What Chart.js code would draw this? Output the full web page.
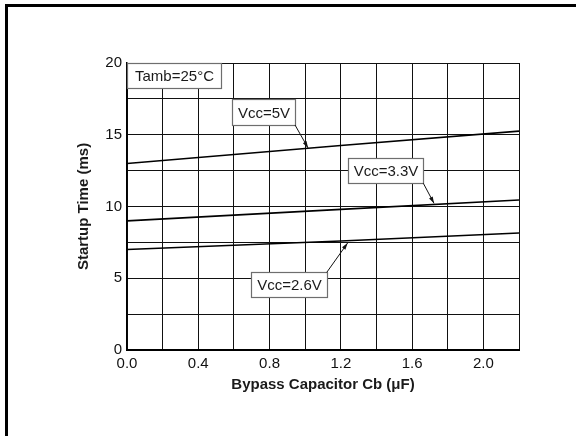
<!DOCTYPE html>
<html>
<head>
<meta charset="utf-8">
<script src="https://cdn.jsdelivr.net/npm/chart.js@4.4.0/dist/chart.umd.min.js"></script>
<style>
  html, body { margin: 0; padding: 0; background: #fff; }
  #wrap { width: 576px; height: 436px; }
</style>
</head>
<body>
<div id="wrap"><canvas id="chart" width="576" height="436"></canvas></div>
<script>
// values
const capX = [0, 1.2, 2.2];
const vcc5 = [13.0, 14.25, 15.25];
const vcc33 = [9.0, 9.8, 10.45];
const vcc26 = [7.0, 7.6, 8.15];
const seriesNames = ['Vcc=5V', 'Vcc=3.3V', 'Vcc=2.6V'];

const xLabels = ['0.0', '0.4', '0.8', '1.2', '1.6', '2.0'];
const yLabels = ['0', '5', '10', '15', '20'];

const FONT = '"Liberation Sans", Arial, sans-serif';

// callout boxes, in data units: [x1, y1, x2, y2], arrow from -> to
const notes = [
  { text: 'Tamb=25\u00B0C', box: [0, 20, 0.526, 18.28] },
  { text: 'Vcc=5V', box: [0.588, 17.47, 0.943, 15.68], from: [0.943, 15.68], to: [1.016, 14.08] },
  { text: 'Vcc=3.3V', box: [1.240, 13.36, 1.663, 11.62], from: [1.663, 11.62], to: [1.723, 10.22] },
  { text: 'Vcc=2.6V', box: [0.694, 5.41, 1.121, 3.71], from: [1.121, 5.41], to: [1.238, 7.45] }
];

function toPoints(ys) {
  return capX.map((x, i) => ({ x, y: ys[i] }));
}

const frame = {
  id: 'frame',
  beforeDraw(chart) {
    const ctx = chart.ctx;
    ctx.save();
    ctx.fillStyle = '#fff';
    ctx.fillRect(0, 0, chart.width, chart.height);
    ctx.fillStyle = '#000';
    ctx.fillRect(5, 4, chart.width - 5, 3);
    ctx.fillRect(5, 4, 3, chart.height - 4);
    ctx.restore();
  }
};

const callouts = {
  id: 'callouts',
  afterDatasetsDraw(chart) {
    const ctx = chart.ctx;
    const xs = chart.scales.x, ys = chart.scales.y;
    ctx.save();
    notes.forEach(n => {
      const x1 = Math.round(xs.getPixelForValue(n.box[0])) + 0.5;
      const y1 = Math.round(ys.getPixelForValue(n.box[1])) + 0.5;
      const x2 = Math.round(xs.getPixelForValue(n.box[2])) + 0.5;
      const y2 = Math.round(ys.getPixelForValue(n.box[3])) + 0.5;
      ctx.fillStyle = '#fff';
      ctx.fillRect(x1, y1, x2 - x1, y2 - y1);
      ctx.strokeStyle = '#6e6e6e';
      ctx.lineWidth = 1.2;
      ctx.strokeRect(x1, y1, x2 - x1, y2 - y1);
      ctx.fillStyle = '#1a1a1a';
      ctx.font = '15px ' + FONT;
      ctx.textAlign = 'center';
      ctx.textBaseline = 'middle';
      ctx.fillText(n.text, (x1 + x2) / 2, (y1 + y2) / 2 + 1);

      if (n.from) {
        const fx = xs.getPixelForValue(n.from[0]), fy = ys.getPixelForValue(n.from[1]);
        const tx = xs.getPixelForValue(n.to[0]), ty = ys.getPixelForValue(n.to[1]);
        ctx.strokeStyle = '#111';
        ctx.lineWidth = 1;
        ctx.beginPath();
        ctx.moveTo(fx, fy);
        ctx.lineTo(tx, ty);
        ctx.stroke();
        const a = Math.atan2(ty - fy, tx - fx);
        const len = 7, w = 0.3;
        ctx.fillStyle = '#111';
        ctx.beginPath();
        ctx.moveTo(tx, ty);
        ctx.lineTo(tx - len * Math.cos(a - w), ty - len * Math.sin(a - w));
        ctx.lineTo(tx - len * Math.cos(a + w), ty - len * Math.sin(a + w));
        ctx.closePath();
        ctx.fill();
      }
    });
    ctx.restore();
  }
};

new Chart(document.getElementById('chart'), {
  type: 'line',
  data: {
    datasets: [vcc5, vcc33, vcc26].map((ys, i) => ({
      label: seriesNames[i],
      data: toPoints(ys),
      borderColor: '#000',
      borderWidth: 1.6,
      pointRadius: 0,
      tension: 0
    }))
  },
  options: {
    responsive: false,
    animation: false,
    layout: { padding: { top: 63, right: 57, left: 0, bottom: 0 } },
    plugins: {
      legend: { display: false },
      tooltip: { enabled: false }
    },
    scales: {
      x: {
        type: 'linear',
        min: 0,
        max: 2.2,
        afterFit(scale) { scale.height = 86; },
        grid: { color: '#111', lineWidth: 1, drawTicks: false },
        border: { color: '#000', width: 2 },
        ticks: {
          stepSize: 0.2,
          padding: 5,
          color: '#111',
          font: { family: FONT, size: 15 },
          callback(v) {
            const s = v.toFixed(1);
            return xLabels.includes(s) ? s : '';
          }
        },
        title: {
          display: true,
          text: 'Bypass Capacitor Cb (\u03BCF)',
          color: '#1a1a1a',
          font: { family: FONT, size: 15, weight: 'bold' },
          padding: { top: 0, bottom: 42 }
        }
      },
      y: {
        min: 0,
        max: 20,
        afterFit(scale) { scale.width = 127; },
        grid: { color: '#111', lineWidth: 1, drawTicks: false },
        border: { color: '#000', width: 1.5 },
        ticks: {
          stepSize: 2.5,
          padding: 5,
          color: '#111',
          font: { family: FONT, size: 15 },
          callback(v) {
            const s = String(v);
            return yLabels.includes(s) ? s : '';
          }
        },
        title: {
          display: true,
          text: 'Startup Time (ms)',
          color: '#1a1a1a',
          font: { family: FONT, size: 15, weight: 'bold' },
          padding: { top: 75, bottom: 0 }
        }
      }
    }
  },
  plugins: [frame, callouts]
});
</script>
</body>
</html>
